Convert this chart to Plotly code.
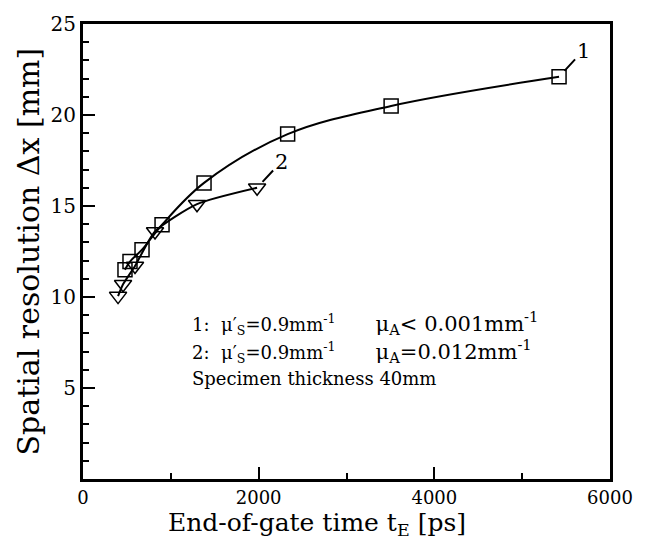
import plotly.graph_objects as go

# Series 1: squares
t1 = [478, 535, 672, 900, 1378, 2330, 3508, 5420]
dx1 = [11.5, 11.95, 12.6, 13.97, 16.27, 18.95, 20.5, 22.1]
# Series 2: down triangles
t2 = [399, 456, 592, 820, 1298, 1982]
dx2 = [10.05, 10.7, 11.7, 13.6, 15.1, 16.0]

NB = "\u00a0"
BIG = '<span style="font-size:21px">'
legend_lines = [
    "1:" + NB * 2 + "μ′<sub>S</sub>=0.9mm<sup>-1</sup>" + NB * 7 + BIG + "μ<sub>A</sub>< 0.001mm<sup>-1</sup></span>",
    "2:" + NB * 2 + "μ′<sub>S</sub>=0.9mm<sup>-1</sup>" + NB * 7 + BIG + "μ<sub>A</sub>=0.012mm<sup>-1</sup></span>",
    "Specimen thickness 40mm",
]
x_title = "End-of-gate time t<sub>E</sub> [ps]"
y_title = "Spatial resolution Δx [mm]"

FONT = "DejaVu Serif, serif"

fig = go.Figure()
fig.add_trace(go.Scatter(
    x=t1, y=dx1, mode="lines+markers",
    line=dict(color="black", width=2, shape="spline", smoothing=1.0),
    marker=dict(symbol="square-open", size=14, color="black", line=dict(width=1.5)),
    showlegend=False,
))
fig.add_trace(go.Scatter(
    x=t2, y=dx2, mode="lines+markers",
    line=dict(color="black", width=2, shape="spline", smoothing=0.6),
    marker=dict(symbol="triangle-down-open", size=15, color="black", line=dict(width=1.5)),
    showlegend=False,
))

# Curve labels with leader lines
fig.add_annotation(x=t1[-1], y=dx1[-1], text="1", showarrow=True, arrowhead=0,
                   arrowwidth=2, arrowcolor="black", ax=24, ay=-26, standoff=8,
                   font=dict(family=FONT, size=21, color="black"))
fig.add_annotation(x=t2[-1], y=dx2[-1], text="2", showarrow=True, arrowhead=0,
                   arrowwidth=2, arrowcolor="black", ax=24, ay=-26, standoff=8,
                   font=dict(family=FONT, size=21, color="black"))

for i, s in enumerate(legend_lines):
    fig.add_annotation(xref="paper", yref="paper", x=(190 - 83) / 527,
                       y=(479 - (322 + 28 * i)) / 458, xanchor="left", yanchor="middle",
                       text=s, showarrow=False,
                       font=dict(family=FONT, size=18, color="black"))

# Axis titles placed as annotations
fig.add_annotation(xref="paper", yref="paper", x=(317 - 83) / 527, y=(479 - 524) / 458,
                   xanchor="center", yanchor="middle", text=x_title, showarrow=False,
                   font=dict(family=FONT, size=25, color="black"))
fig.add_annotation(xref="paper", yref="paper", x=(28 - 83) / 527, y=(479 - 250) / 458,
                   xanchor="center", yanchor="middle", text=y_title, showarrow=False,
                   textangle=-90, font=dict(family=FONT, size=30, color="black"))

fig.update_layout(
    width=652, height=541,
    margin=dict(l=83, r=42, t=21, b=62),
    plot_bgcolor="white", paper_bgcolor="white",
    font=dict(family=FONT, color="black"),
    xaxis=dict(
        range=[0, 6000], dtick=2000, tick0=0,
        ticks="inside", ticklen=12, tickwidth=1.5, tickcolor="black",
        minor=dict(dtick=1000, ticks="inside", ticklen=6, tickwidth=1.5, tickcolor="black"),
        showline=True, linewidth=3, linecolor="black", mirror=True,
        showgrid=False, zeroline=False,
        tickfont=dict(family=FONT, size=18),
    ),
    yaxis=dict(
        range=[0, 25], dtick=5, tick0=0,
        ticks="inside", ticklen=12, tickwidth=1.5, tickcolor="black",
        minor=dict(dtick=1, ticks="inside", ticklen=6, tickwidth=1.5, tickcolor="black"),
        showline=True, linewidth=3, linecolor="black", mirror=True,
        showgrid=False, zeroline=False,
        tickfont=dict(family=FONT, size=20),
        tickvals=[5, 10, 15, 20, 25],
    ),
)

fig.write_html("out.html")
